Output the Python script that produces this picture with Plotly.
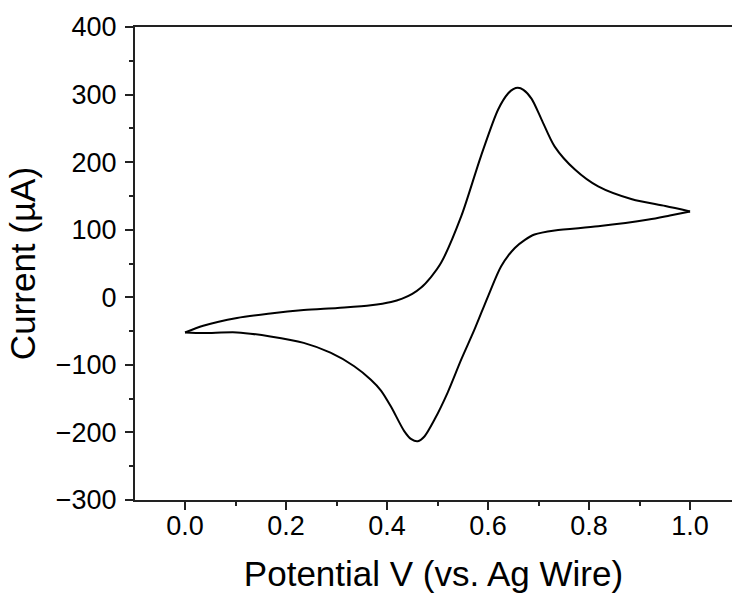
import plotly.graph_objects as go

# Forward (anodic) scan: potential (V) and current (µA)
fwd_v = [0.000, 0.036, 0.103, 0.169, 0.235, 0.302, 0.368, 0.408, 0.430, 0.450, 0.467, 0.487,
         0.507, 0.547, 0.586, 0.620, 0.640, 0.650, 0.659, 0.670, 0.686, 0.706, 0.732, 0.772,
         0.818, 0.885, 0.951, 1.000]
fwd_i = [-52, -42, -30.5, -24, -19, -15.7, -11.8, -7, -2, 5, 14, 30,
         51, 120, 209, 278, 302, 308, 310, 307, 294, 263, 223, 189,
         164, 145, 135, 127]

# Reverse (cathodic) scan
rev_v = [1.000, 0.960, 0.918, 0.818, 0.732, 0.692, 0.673, 0.653, 0.626, 0.600, 0.573, 0.547,
         0.520, 0.494, 0.474, 0.461, 0.448, 0.434, 0.408, 0.388, 0.368, 0.335, 0.288, 0.235,
         0.169, 0.103, 0.036, 0.000]
rev_i = [127, 121, 115, 105, 99, 93, 85, 73, 46, 1.5, -48, -92,
         -141, -181, -206, -213, -210, -198, -162, -138, -122, -102, -82, -67.5,
         -58, -52, -53, -52]

x_ticks = [0.0, 0.2, 0.4, 0.6, 0.8, 1.0]
y_ticks = [-300, -200, -100, 0, 100, 200, 300, 400]

FONT = "Liberation Sans, Arial, sans-serif"
line_style = dict(color="black", width=2, shape="spline", smoothing=0.8)

fig = go.Figure()
fig.add_trace(go.Scatter(x=fwd_v, y=fwd_i, mode="lines", line=line_style, showlegend=False))
fig.add_trace(go.Scatter(x=rev_v, y=rev_i, mode="lines", line=line_style, showlegend=False))

axis_common = dict(
    showgrid=False, zeroline=False, showline=True, linecolor="#222222", linewidth=2,
    ticks="outside", ticklen=8, tickwidth=2, tickcolor="#222222",
    tickfont=dict(family=FONT, size=27, color="black"),
)

fig.update_xaxes(
    **axis_common, range=[-0.099, 1.083], tickvals=x_ticks, tickformat=".1f",
    mirror=True, ticklabelstandoff=-7,
    minor=dict(ticks="outside", ticklen=4, tickwidth=2, tickcolor="#222222", dtick=0.1, tick0=0),
    title=dict(text="Potential V (vs. Ag Wire)", font=dict(family=FONT, size=35, color="black"),
               standoff=21),
)
fig.update_yaxes(
    **axis_common, range=[-300, 400], tickvals=y_ticks, ticklabelstandoff=3,
    minor=dict(ticks="outside", ticklen=4, tickwidth=2, tickcolor="#222222", dtick=50, tick0=0),
    title=dict(text="Current (µA)", font=dict(family=FONT, size=35, color="black"), standoff=10),
)

fig.update_layout(
    width=732, height=593,
    margin=dict(l=135, r=0, t=27, b=93, autoexpand=False),
    paper_bgcolor="white", plot_bgcolor="white",
)

# remove the browser's default body margin so the figure fills the window exactly
fig.write_html("out.html", config={"displayModeBar": False},
               post_script="document.body.style.margin='0';document.body.style.overflow='hidden';")
